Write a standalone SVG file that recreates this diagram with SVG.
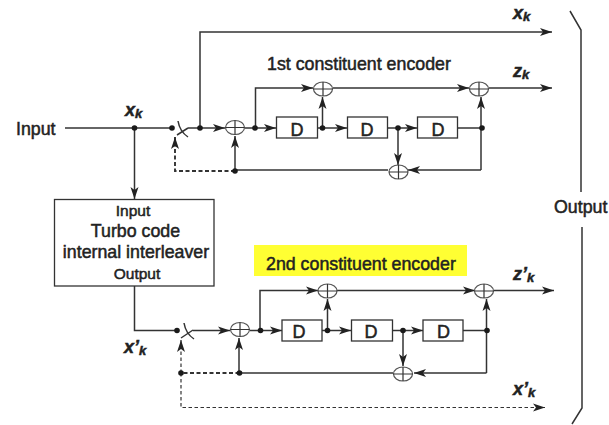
<svg xmlns="http://www.w3.org/2000/svg" width="609" height="425" viewBox="0 0 609 425">
<defs>
<marker id="ah" markerUnits="userSpaceOnUse" markerWidth="13" markerHeight="10" refX="12" refY="5" orient="auto"><path d="M0 1L12 5L0 9L3 5Z" fill="#222"/></marker>
<g id="xor"><ellipse cx="0" cy="0" rx="9.500" ry="7" fill="#fff" stroke="#555" stroke-width="1.200"/><path d="M-9.500 0H9.500M0 -7V7" fill="none" stroke="#333" stroke-width="1.200"/></g>
</defs>
<style>
.l{fill:none;stroke:#333;stroke-width:1.500}
.a{marker-end:url(#ah)}
.d{stroke-dasharray:4 2.500;stroke-width:1.900}
.d2{stroke-dasharray:3.500 2.500;stroke-width:1.200}
.b{fill:#fff;stroke:#333;stroke-width:1.300}
.p{fill:#1a1a1a}
text{font-family:"Liberation Sans",Arial,sans-serif;fill:#222;stroke:#222;stroke-width:.5}
.t{font-size:17.800px}
.n{font-size:15.500px;text-anchor:middle}
.m{font-size:17.800px;text-anchor:middle}
.v{font-size:18px;font-weight:bold;font-style:italic}
.s{font-size:13px;font-weight:bold;font-style:italic}
.D{font-size:18px;text-anchor:middle}
</style>
<rect id="highlight" x="254" y="245" width="213" height="31" fill="#ffff33"/>
<g id="connectors">
<path class="l" d="M65 128H172"/>
<path class="l a" d="M134.500 128V199"/>
<path class="l" d="M178 121C179 127 182 133 188 137M177 135L188 128"/>
<path class="l" d="M188 128H200"/>
<path class="l a" d="M200 128V32H552"/>
<path class="l a" d="M200 128H225"/>
<path class="l" d="M245 128H255"/>
<path class="l a" d="M255 128H276"/>
<path class="l a" d="M255.500 128V88H313"/>
<path class="l a" d="M317 128H322.500H347"/>
<path class="l a" d="M322.500 128V97"/>
<path class="l a" d="M333 88H469"/>
<path class="l a" d="M387 128H417"/>
<path class="l a" d="M398 128V165"/>
<path class="l" d="M457 128H481"/>
<path class="l a" d="M481 170V97"/>
<path class="l a" d="M481 170H408"/>
<path class="l" d="M388 170H235"/>
<path class="l a" d="M235 170V136"/>
<path class="l a d" d="M235 171H175V137"/>
<path class="l a" d="M489 88H552"/>
<path class="l" d="M134.500 286V330.500H176"/>
<path class="l" d="M184 323C185 329 188 335 194 339M181 338L193 330"/>
<path class="l a" d="M193 330.500H230"/>
<path class="l" d="M250 330.500H261"/>
<path class="l a" d="M260.500 330.500H282"/>
<path class="l a" d="M260 330.500V290.500H318"/>
<path class="l a" d="M322 330.500H351"/>
<path class="l a" d="M327.500 330.500V299"/>
<path class="l a" d="M337 290.500H475"/>
<path class="l a" d="M393 330.500H423"/>
<path class="l a" d="M403 330.500V366"/>
<path class="l" d="M463 330.500H487"/>
<path class="l a" d="M486.500 373V299"/>
<path class="l a" d="M486.500 373H414"/>
<path class="l" d="M393 373H239.500"/>
<path class="l a" d="M239 373V338"/>
<path class="l d" d="M239.500 373H181"/>
<path class="l a d2" d="M181 373V340"/>
<path class="l a d2" d="M181 373V407.500H545"/>
<path class="l a" d="M494 290.500H554"/>
<path class="l" d="M570 11L581 30V192"/>
<path class="l" d="M582 227V408L572 424"/>
</g>
<g id="junctions" class="p">
<circle cx="134.500" cy="128" r="2.800"/><circle cx="172" cy="128" r="2.800"/><circle cx="200" cy="128" r="2.800"/><circle cx="255" cy="128" r="2.800"/><circle cx="322.500" cy="128" r="2.800"/><circle cx="398" cy="128" r="2.800"/><circle cx="482" cy="128" r="2.800"/><circle cx="235" cy="171" r="2.800"/>
<circle cx="177" cy="330.500" r="2.800"/><circle cx="260.500" cy="330.500" r="2.800"/><circle cx="327.500" cy="330.500" r="2.800"/><circle cx="403" cy="330.500" r="2.800"/><circle cx="487" cy="330.500" r="2.800"/><circle cx="239.500" cy="373" r="2.800"/><circle cx="181" cy="373" r="2.800"/>
</g>
<g id="xor1"><use href="#xor" x="235" y="127.500"/></g>
<g id="xor2"><use href="#xor" x="323" y="89"/></g>
<g id="xor3"><use href="#xor" x="479" y="89"/></g>
<g id="xor4"><use href="#xor" x="398.500" y="172"/></g>
<g id="xor5"><use href="#xor" x="240" y="329.500"/></g>
<g id="xor6"><use href="#xor" x="327.500" y="291"/></g>
<g id="xor7"><use href="#xor" x="484" y="291"/></g>
<g id="xor8"><use href="#xor" x="403" y="374"/></g>
<g id="d1"><rect class="b" x="276.500" y="117" width="41" height="21"/><text class="D" x="297" y="136">D</text></g>
<g id="d2"><rect class="b" x="347.500" y="117" width="40" height="21"/><text class="D" x="367" y="136">D</text></g>
<g id="d3"><rect class="b" x="417.500" y="117" width="40" height="21"/><text class="D" x="438" y="136">D</text></g>
<g id="d4"><rect class="b" x="282" y="320" width="40" height="21"/><text class="D" x="299" y="338">D</text></g>
<g id="d5"><rect class="b" x="351.500" y="320" width="41" height="21"/><text class="D" x="371" y="338">D</text></g>
<g id="d6"><rect class="b" x="423" y="320" width="40" height="21"/><text class="D" x="443.500" y="338">D</text></g>
<g id="interleaver"><rect class="b" x="54.500" y="199.500" width="159.500" height="86.500"/>
<text class="n" x="133" y="216">Input</text><text class="m" x="135.500" y="237">Turbo code</text><text class="m" x="136" y="258">internal interleaver</text><text class="n" x="137" y="279">Output</text></g>
<g id="labels">
<text class="t" x="16" y="135">Input</text>
<text class="t" x="554" y="213">Output</text>
<text class="t" x="267" y="70">1st constituent encoder</text>
<text class="t" x="266" y="270">2nd constituent encoder</text>
<text class="v" x="125" y="116">x<tspan class="s" dy="2">k</tspan></text>
<text class="v" x="513" y="19">x<tspan class="s" dy="2">k</tspan></text>
<text class="v" x="513" y="77">z<tspan class="s" dy="2">k</tspan></text>
<text class="v" x="513" y="280">z’<tspan class="s" dy="2">k</tspan></text>
<text class="v" x="513" y="395">x’<tspan class="s" dy="2">k</tspan></text>
<text class="v" x="124" y="353">x’<tspan class="s" dy="2">k</tspan></text>
</g>
</svg>
